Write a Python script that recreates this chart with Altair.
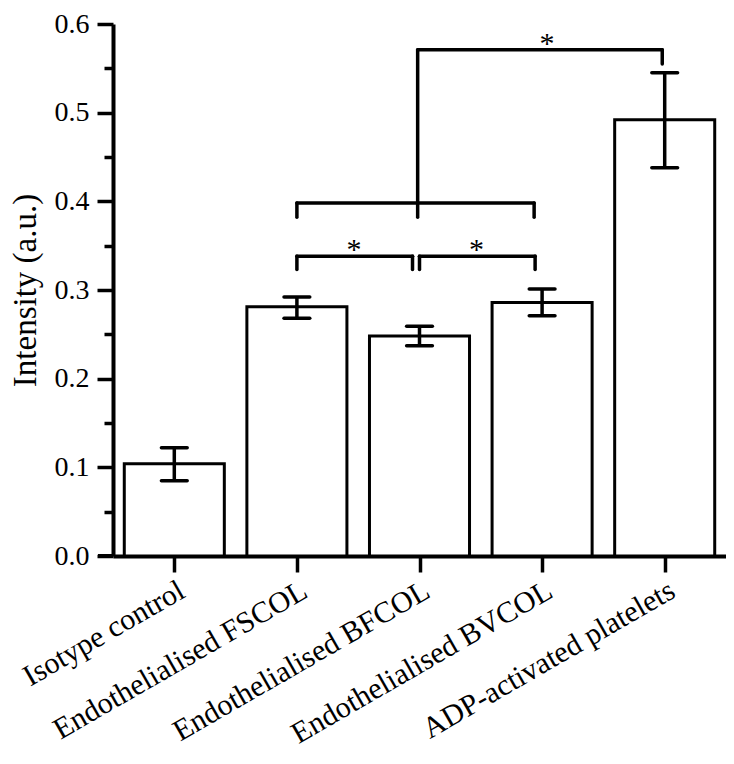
import json
import altair as alt
import pandas as pd

# ---- data ----
categories = ["Isotype control", "Endothelialised FSCOL", "Endothelialised BFCOL",
              "Endothelialised BVCOL", "ADP-activated platelets"]
means = [0.104, 0.281, 0.248, 0.286, 0.492]
err_low = [0.085, 0.268, 0.237, 0.271, 0.438]
err_high = [0.122, 0.292, 0.259, 0.301, 0.545]

# significance brackets (positions in category-index units, heights in a.u.)
br_left = [1.0, 2.0, 1.0, 1.985]
br_right = [1.943, 2.943, 2.935, 3.98]
br_y = [0.338, 0.338, 0.398, 0.571]
br_left_end = [0.323, 0.323, 0.382, 0.382]
br_right_end = [0.323, 0.323, 0.382, 0.555]
star_x = [1.465, 2.465, 3.04]
star_y = [0.338, 0.338, 0.571]
y_ticks = [round(0.05 * i, 2) for i in range(13)]

FONT = "Liberation Serif"
BAR_HALF = 0.408
CAP_HALF = 0.105

idx = list(range(len(categories)))
df = pd.DataFrame({
    "idx": idx, "cat": categories, "mean": means, "lo": err_low, "hi": err_high,
})
df["x0"] = df["idx"] - BAR_HALF
df["x1"] = df["idx"] + BAR_HALF
df["c0"] = df["idx"] - CAP_HALF
df["c1"] = df["idx"] + CAP_HALF

xs = alt.Scale(domain=[-0.5, 4.5], nice=False, zero=False)
ys = alt.Scale(domain=[0, 0.6], nice=False)

label_expr = json.dumps(categories) + "[datum.value]"

x_axis = alt.Axis(values=idx, labelExpr=label_expr, title=None, labelAngle=-30,
                  labelAlign="right", labelBaseline="top", labelFont=FONT,
                  labelFontSize=30, labelColor="black", labelPadding=3, labelLimit=600,
                  tickSize=16, tickWidth=3.5, tickColor="black",
                  domainColor="black", domainWidth=4, grid=False, labelOverlap=False)
y_axis = alt.Axis(values=y_ticks, title="Intensity (a.u.)", titleFont=FONT,
                  titleFontSize=33, titleFontWeight="normal", titleColor="black",
                  titlePadding=12, titleLimit=600,
                  labelExpr="round(datum.value*100) % 10 == 0 ? format(datum.value, '.1f') : ''",
                  labelFont=FONT, labelFontSize=28, labelColor="black", labelPadding=8,
                  tickSize={"condition": {"test": "round(datum.value*100) % 10 != 0", "value": 9},
                            "value": 16},
                  tickWidth=3.5, tickColor="black", domainColor="black", domainWidth=4,
                  grid=False, labelOverlap=False)

base = alt.Chart(df)

bars = base.mark_bar(fill="white", stroke="black", strokeWidth=3).encode(
    x=alt.X("x0:Q", scale=xs, axis=x_axis),
    x2="x1:Q",
    y=alt.Y("mean:Q", scale=ys, axis=y_axis),
    y2=alt.datum(0),
)

err_v = base.mark_rule(color="black", strokeWidth=3.5).encode(
    x=alt.X("idx:Q", scale=xs, axis=x_axis),
    y=alt.Y("lo:Q", scale=ys, axis=y_axis),
    y2="hi:Q",
)
cap_hi = base.mark_rule(color="black", strokeWidth=3.5, strokeCap="round").encode(
    x=alt.X("c0:Q", scale=xs, axis=x_axis), x2="c1:Q",
    y=alt.Y("hi:Q", scale=ys, axis=y_axis),
)
cap_lo = base.mark_rule(color="black", strokeWidth=3.5, strokeCap="round").encode(
    x=alt.X("c0:Q", scale=xs, axis=x_axis), x2="c1:Q",
    y=alt.Y("lo:Q", scale=ys, axis=y_axis),
)

# bracket segments built from the bracket definitions
segs = []
for l, r, y, le, re in zip(br_left, br_right, br_y, br_left_end, br_right_end):
    segs.append({"xa": l, "xb": r, "ya": y, "yb": y})
    segs.append({"xa": l, "xb": l, "ya": le, "yb": y})
    segs.append({"xa": r, "xb": r, "ya": re, "yb": y})
seg_df = pd.DataFrame(segs)

brackets = alt.Chart(seg_df).mark_rule(color="black", strokeWidth=3.5, strokeCap="round").encode(
    x=alt.X("xa:Q", scale=xs, axis=x_axis), x2="xb:Q",
    y=alt.Y("ya:Q", scale=ys, axis=y_axis), y2="yb:Q",
)

stars = alt.Chart(pd.DataFrame({"sx": star_x, "sy": star_y, "t": ["*"] * len(star_x)})).mark_text(
    font=FONT, fontSize=30, baseline="alphabetic", align="center", dy=3, color="black"
).encode(
    x=alt.X("sx:Q", scale=xs, axis=x_axis),
    y=alt.Y("sy:Q", scale=ys, axis=y_axis),
    text="t:N",
)

# small overhang of the x-axis line to the left of the y axis
overhang = alt.Chart(pd.DataFrame({"z": [0]})).mark_rule(color="black", strokeWidth=4).encode(
    x=alt.value(-15), x2=alt.value(0),
    y=alt.Y("z:Q", scale=ys, axis=y_axis),
)

chart = alt.layer(bars, err_v, cap_hi, cap_lo, brackets, stars, overhang).properties(
    width=613, height=532,
    padding={"left": 105, "top": 16, "right": 0, "bottom": 196},
    autosize=alt.AutoSizeParams(type="none"),
    background="white",
).configure_view(stroke=None).configure_axisLeft(titleFontSize=33, titleFont=FONT)

chart.save("out.html", embed_options={"renderer": "svg", "actions": False})
